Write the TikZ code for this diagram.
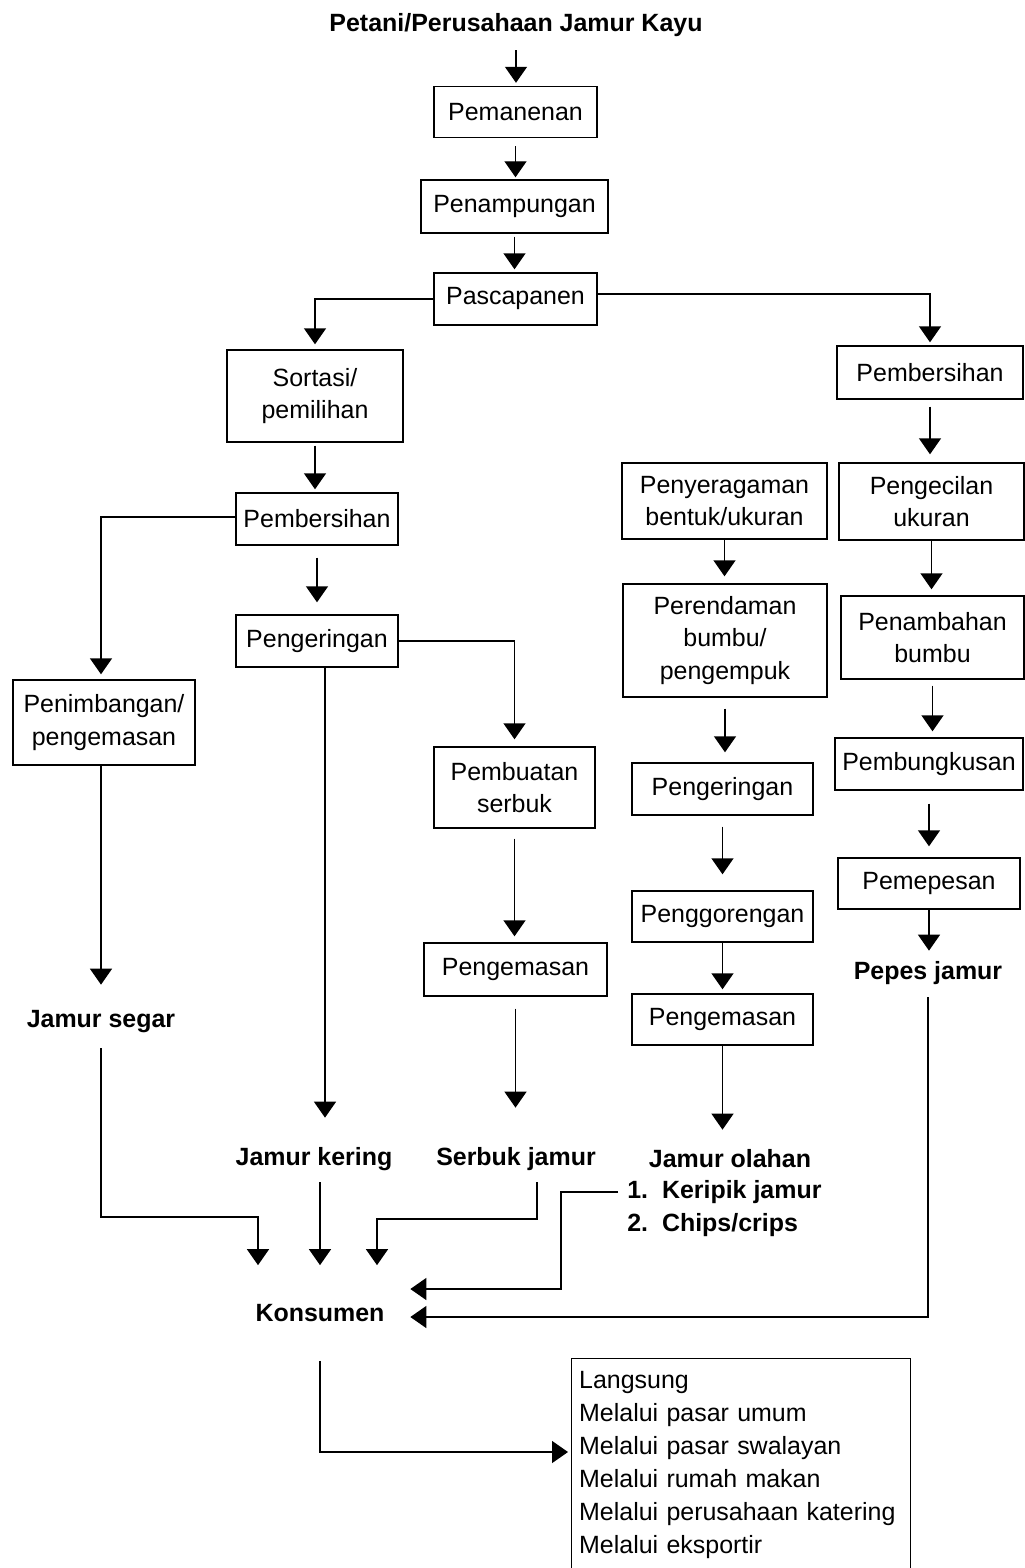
\documentclass[tikz,border=0pt]{standalone}
\usepackage{fontspec}
\setmainfont{Liberation Sans}
\usetikzlibrary{arrows.meta}
\newcommand{\flowfont}{\fontsize{14.2}{18.5}\selectfont}
\newcommand{\labelfont}{\fontsize{14.2}{17}\selectfont\bfseries}

\begin{document}
\begin{tikzpicture}[x=0.2mm, y=-0.2mm,
    proc/.style={draw, line width=0.8pt, align=center, inner sep=1pt, font=\flowfont},
    lbl/.style={font=\labelfont, inner sep=0pt, minimum height=7mm},
    arr/.style={-{Triangle[length=3.2mm, width=4.4mm]}, line width=0.8pt}
]
\useasboundingbox (0,0) rectangle (1025,1568);

% ============================================================
% TRUNK (centre)
% ============================================================
\node[lbl] (sumber) at (516,25) {Petani/Perusahaan Jamur Kayu};
\node[proc, minimum width=32.6mm, minimum height=10.2mm] (panen)   at (515.5,112) {Pemanenan};
\node[proc, minimum width=37.4mm, minimum height=10.6mm] (tampung) at (514.5,206.5) {Penampungan};
\node[proc, minimum width=32.6mm, minimum height=10.4mm] (pasca)   at (515.5,299)   {Pascapanen};

% ============================================================
% LEFT BRANCH (segar / kering / serbuk)
% ============================================================
\node[proc, minimum width=35.2mm, minimum height=18.4mm] (sortasi) at (315,396)     {Sortasi/\\pemilihan};
\node[proc, minimum width=32.4mm, minimum height=10.4mm] (bersihL) at (317,519)     {Pembersihan};
\node[proc, minimum width=32.4mm, minimum height=10.4mm] (ngL)     at (317,641)     {Pengeringan};
\node[proc, minimum width=36.4mm, minimum height=17mm]   (timbang) at (104,722.5)   {Penimbangan/\\pengemasan};
\node[proc, minimum width=32.2mm, minimum height=16.2mm] (serbuk)  at (514.5,787.5) {Pembuatan\\serbuk};
\node[proc, minimum width=36.6mm, minimum height=10.6mm] (kemasS)  at (515.5,969.5) {Pengemasan};

\node[lbl] (segar)   at (101,1022) {Jamur segar};
\node[lbl] (kering)  at (314,1159) {Jamur kering};
\node[lbl] (serbukJ) at (516,1159) {Serbuk jamur};

% ============================================================
% OLAHAN (centre right)
% ============================================================
\node[proc, minimum width=41mm,   minimum height=15.2mm] (seragam) at (724.5,501)    {Penyeragaman\\bentuk/ukuran};
\node[proc, minimum width=40.8mm, minimum height=22.6mm] (rendam)  at (725,640.5)    {Perendaman\\bumbu/\\pengempuk};
\node[proc, minimum width=36.2mm, minimum height=10.4mm] (ngR)     at (722.5,789)    {Pengeringan};
\node[proc, minimum width=36.2mm, minimum height=10.2mm] (goreng)  at (722.5,916.5)  {Penggorengan};
\node[proc, minimum width=36.2mm, minimum height=10.2mm] (kemasR)  at (722.5,1019.5) {Pengemasan};

\node[lbl] (olahan) at (730,1159) {Jamur olahan};
\node[lbl, minimum height=0pt, anchor=west] (k1) at (627,1192) {1.\ \ Keripik jamur};
\node[lbl, minimum height=0pt, anchor=west] (k2) at (627,1225) {2.\ \ Chips/crips};

% ============================================================
% PEPES (right)
% ============================================================
\node[proc, minimum width=37.2mm, minimum height=10.6mm] (bersihR) at (930,372.5)   {Pembersihan};
\node[proc, minimum width=37mm,   minimum height=15.4mm] (kecil)   at (931.5,501.5) {Pengecilan\\ukuran};
\node[proc, minimum width=36.6mm, minimum height=16.6mm] (tambah)  at (932.5,637.5) {Penambahan\\bumbu};
\node[proc, minimum width=37.6mm, minimum height=10.4mm] (bungkus) at (929,764)     {Pembungkusan};
\node[proc, minimum width=36.4mm, minimum height=10.2mm] (pepes)   at (929,883.5)   {Pemepesan};

\node[lbl] (pepesJ) at (928,973) {Pepes jamur};

% ============================================================
% KONSUMEN + saluran
% ============================================================
\node[lbl, minimum width=36mm, minimum height=19mm] (konsumen) at (320,1313) {Konsumen};
\node[proc, font=\fontsize{14.2}{18.7}\selectfont, anchor=north west, text width=64.8mm,
      align=left, inner xsep=1.5mm, inner ysep=2.6mm] (saluran) at (571,1358)
      {Langsung\\Melalui pasar umum\\Melalui pasar swalayan\\Melalui rumah makan\\Melalui perusahaan katering\\Melalui eksportir};

% bend points
\coordinate (bSegar)  at (258,1217);
\coordinate (bSerbuk) at (377,1219);
\coordinate (bOlahan) at (561,1289);
\coordinate (bKons)   at (320,1452);

% straight arrows
\foreach \a/\b/\s/\e in {sumber/panen/1.5mm/0.6mm, panen/tampung/1.6mm/0.4mm, tampung/pasca/0.6mm/0.6mm,
    sortasi/bersihL/0.6mm/0.6mm, bersihL/ngL/2.4mm/2.4mm,
    serbuk/kemasS/2mm/1.2mm, kemasS/serbukJ/2.4mm/6.7mm,
    seragam/rendam/0mm/1.4mm, rendam/ngR/2.2mm/2mm, ngR/goreng/2.2mm/3.2mm,
    goreng/kemasR/0mm/0.8mm, kemasR/olahan/0mm/2.3mm,
    bersihR/kecil/1.4mm/1.6mm, kecil/tambah/0mm/1.2mm, tambah/bungkus/1.2mm/1.2mm,
    bungkus/pepes/2.6mm/2.2mm, pepes/pepesJ/0mm/0.9mm} {
    \draw[arr, shorten <=\s, shorten >=\e] (\a.south) -- (\a.south |- \b.north);
}
\draw[arr, shorten >=3.9mm] (timbang.south -| segar.north) -- (segar.north);

% branches
\draw[arr, shorten >=1mm]   (pasca.west) -| (sortasi.north);
\draw[arr, shorten >=0.6mm] ([yshift=1mm]pasca.east) -| (bersihR.north);
\draw[arr, shorten >=1mm]   ([yshift=0.4mm]bersihL.west) -| (segar.north |- timbang.north);
\draw[arr, shorten >=1.4mm] (ngL.east) -| (serbuk.north);
\draw[arr, shorten >=4.7mm] ([xshift=1.6mm]ngL.south) -- ([xshift=1.6mm]ngL.south |- kering.north);

% into konsumen
\draw[arr, shorten <=1.7mm] (segar.south) -- (segar.south |- bSegar) -- (bSegar) -- (bSegar |- konsumen.north);
\draw[arr, shorten <=1.1mm] (kering.south -| konsumen) -- (konsumen.north);
\draw[arr, shorten <=1.1mm] ([xshift=4.2mm]serbukJ.south) -- ([xshift=4.2mm]serbukJ.south |- bSerbuk) -- (bSerbuk) -- (bSerbuk |- konsumen.north);
\draw[arr, shorten <=1.8mm] (k1.west) -- (k1.west -| bOlahan) -- (bOlahan) -- (bOlahan -| konsumen.east);
\draw[arr, shorten <=1.3mm] (pepesJ.south) |- ([yshift=-0.8mm]konsumen.east);

% out of konsumen
\draw[arr, shorten >=0.6mm] (konsumen.south) -- (bKons) -- (bKons -| saluran.west);

\end{tikzpicture}
\end{document}
